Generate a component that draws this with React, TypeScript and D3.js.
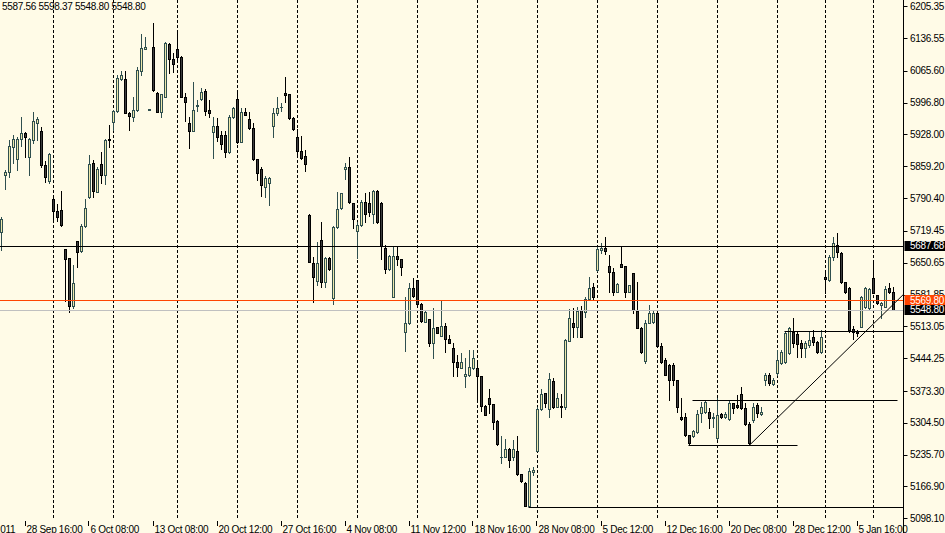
import React from 'react';
import * as d3 from 'd3';

const W = 945;
const H = 533;
const AXIS_X = 903.5;
const PLOT_BOTTOM = 520;

const opens = [5717,5840,5847,5901,5875,5918,5931,5879,5916,5953,
5935,5862,5827,5788,5763,5765,5680,5661,5557,5698,
5676,5730,5793,5866,5804,5864,5840,5918,5955,5979,
6048,6048,5974,5966,5981,6065,6113,5981,6117,6018,
5976,6009,6124,6091,6113,6096,6009,5953,5935,5990,
6005,6022,5981,5933,5946,5927,5927,5890,5966,6005,
5912,5976,5961,5942,5875,5853,5814,5823,5946,5974,
5987,6018,6016,5964,5922,5892,5881,5754,5650,5611,
5700,5609,5661,5574,5728,5769,5853,5858,5780,5719,
5732,5782,5780,5756,5806,5780,5683,5637,5577,5665,
5659,5501,5520,5596,5613,5561,5522,5529,5477,5512,
5492,5514,5486,5466,5436,5423,5406,5408,5423,5423,
5406,5341,5358,5345,5308,5230,5230,5248,5230,5243,
5194,5174,5124,5198,5243,5334,5369,5334,5395,5339,
5341,5339,5481,5520,5512,5548,5544,5572,5598,5635,
5678,5683,5644,5631,5587,5648,5644,5587,5628,5546,
5509,5438,5520,5522,5542,5471,5440,5429,5429,5397,
5317,5317,5278,5276,5285,5326,5328,5328,5315,5272,
5323,5317,5313,5347,5343,5367,5337,5302,5310,5343,
5323,5397,5408,5388,5412,5434,5436,5455,5501,5496,
5477,5466,5473,5490,5479,5458,5620,5613,5663,5689,
5672,5609,5596,5507,5501,5512,5555,5553,5618,5581,
5559,5555,5596,5587.56];

const highs = [5750,5851,5916,5927,5922,5966,5933,5920,5976,5966,
5944,5871,5888,5797,5778,5806,5680,5661,5646,5698,
5734,5788,5884,5873,5858,5890,5918,5948,5981,6057,
6065,6065,5976,6009,6074,6145,6139,5983,6169,6020,
6016,6128,6126,6104,6150,6098,6018,5966,6042,6003,
6029,6026,6003,5966,5964,5935,5935,5970,5987,6018,
5985,5985,5976,5953,5875,5858,5838,5836,5985,6009,
5996,6052,6016,5966,5940,5925,5894,5756,5663,5696,
5739,5663,5663,5730,5804,5801,5866,5879,5780,5739,
5786,5801,5804,5808,5808,5782,5689,5667,5687,5687,
5659,5577,5607,5618,5613,5564,5548,5529,5553,5512,
5568,5520,5494,5477,5451,5455,5445,5462,5462,5440,
5406,5343,5377,5345,5310,5276,5269,5250,5267,5276,
5194,5176,5207,5209,5339,5377,5369,5412,5401,5369,
5367,5485,5551,5553,5555,5557,5577,5620,5607,5685,
5693,5706,5667,5639,5607,5685,5644,5602,5628,5609,
5512,5527,5559,5548,5548,5477,5445,5432,5434,5397,
5358,5326,5278,5289,5332,5349,5352,5337,5326,5358,
5326,5328,5354,5347,5365,5382,5347,5306,5347,5347,
5339,5412,5412,5401,5462,5462,5501,5512,5531,5501,
5484,5481,5501,5505,5481,5505,5635,5667,5706,5715,
5674,5609,5598,5514,5505,5578,5598,5595,5654,5581,
5566,5600,5607,5598.37];

const lows = [5678,5810,5836,5866,5851,5903,5879,5840,5909,5916,
5858,5825,5823,5739,5741,5730,5568,5544,5553,5641,
5674,5728,5791,5793,5804,5823,5821,5901,5938,5976,
6046,5974,5938,5957,5979,6057,6113,5980,6022,5976,
5966,6009,6061,6063,6091,6009,5957,5899,5935,5979,
6003,5970,5966,5877,5914,5897,5879,5888,5964,5909,
5912,5970,5940,5873,5830,5795,5793,5775,5922,5970,
5979,5998,5961,5938,5881,5875,5849,5652,5566,5602,
5598,5598,5635,5561,5726,5767,5832,5780,5726,5661,
5730,5739,5752,5737,5737,5659,5628,5635,5577,5646,
5624,5460,5518,5577,5561,5522,5522,5471,5445,5499,
5492,5458,5477,5406,5406,5423,5382,5406,5421,5349,
5330,5321,5326,5291,5256,5218,5230,5209,5224,5192,
5176,5124,5122,5192,5243,5332,5339,5317,5337,5339,
5317,5334,5481,5490,5490,5490,5533,5570,5570,5633,
5672,5670,5587,5581,5587,5641,5577,5587,5542,5509,
5455,5434,5520,5520,5468,5434,5408,5354,5386,5328,
5310,5276,5259,5274,5282,5306,5326,5293,5295,5270,
5315,5315,5310,5326,5337,5334,5300,5256,5306,5317,
5321,5386,5386,5386,5408,5432,5434,5453,5468,5447,
5447,5447,5468,5473,5455,5455,5585,5611,5656,5663,
5607,5585,5501,5486,5492,5512,5553,5551,5585,5561,
5531,5555,5585,5548.80];

const closes = [5745,5847,5903,5918,5918,5931,5922,5918,5957,5961,
5862,5836,5886,5763,5750,5732,5659,5557,5607,5674,
5730,5769,5864,5806,5853,5840,5916,5916,5979,6050,
6057,5974,5968,5981,6067,6115,6117,5982,6024,5976,
6016,6126,6091,6080,6096,6009,5998,5935,5981,5991,
6020,5979,5974,5946,5922,5907,5890,5966,5985,5912,
5976,5970,5942,5875,5845,5819,5834,5834,5974,5985,
5988,6013,5964,5940,5892,5877,5864,5652,5620,5650,
5609,5661,5637,5728,5767,5801,5858,5782,5745,5732,
5782,5756,5760,5806,5739,5687,5637,5665,5665,5659,
5641,5520,5596,5579,5561,5525,5544,5477,5509,5499,
5514,5486,5477,5436,5425,5436,5410,5425,5445,5406,
5341,5321,5345,5306,5259,5231,5248,5224,5248,5194,
5179,5124,5200,5202,5334,5367,5347,5399,5339,5358,
5339,5484,5531,5512,5546,5490,5572,5596,5577,5680,
5683,5676,5631,5587,5605,5641,5587,5602,5548,5509,
5458,5520,5542,5542,5471,5436,5408,5397,5397,5339,
5313,5278,5261,5287,5323,5339,5349,5315,5316,5321,
5317,5323,5347,5337,5339,5337,5302,5261,5339,5326,
5328,5408,5390,5397,5440,5458,5499,5509,5477,5475,
5466,5477,5484,5479,5458,5490,5615,5663,5693,5674,
5609,5587,5505,5501,5499,5577,5596,5594,5585,5564,
5564,5594,5587,5548.80];

const priceTicks = [6205.35, 6136.55, 6065.60, 5996.80, 5928.00, 5859.20, 5790.40, 5719.45,
  5650.65, 5581.85, 5513.05, 5444.25, 5373.30, 5304.50, 5235.70, 5166.90, 5098.10];

const timeLabels = ["22 Sep 2011", "28 Sep 16:00", "6 Oct 08:00", "13 Oct 08:00", "20 Oct 12:00",
  "27 Oct 16:00", "4 Nov 08:00", "11 Nov 12:00", "18 Nov 16:00", "28 Nov 08:00", "5 Dec 12:00",
  "12 Dec 16:00", "20 Dec 08:00", "28 Dec 12:00", "5 Jan 16:00"];
const timeLabelBars = [-10, 6, 22, 38, 54, 70, 86, 102, 118, 134, 150, 166, 182, 198, 214];
const gridBars = [13, 28, 44, 59, 74, 89, 104, 119, 134, 149, 164, 179, 194, 206, 218];

const headerText = "5587.56 5598.37 5548.80 5548.80";

// full-width levels
const levelPrices = [5687.68, 5569.80, 5548.80];
const levelColors = ["#000000", "#FF4500", "#C0C0C0"];
const tagBg = ["#000000", "#FF4500", "#000000"];

// horizontal segments: [price, startBar, endBar]
const segPrices = [5122, 5353.8, 5256, 5503];
const segStart = [132, 173, 172, 196];
const segEnd = [226, 224, 199, 226];

// trend line anchors
const trendBars = [187, 223];
const trendPrices = [5256, 5561];

const BG = "#FFFBE7";
const BULL_FILL = "#EEE8AA";
const BULL_STROKE = "#2F4F4F";
const BEAR_FILL = "#3C3C3C";
const BEAR_STROKE = "#000000";
const FONT = "'Liberation Sans', Arial, sans-serif";

export default function App() {
  const x = d3.scaleLinear().domain([0, 223]).range([1.5, 893.5]);
  const y = d3.scaleLinear().domain([5094.2, 6218.8]).range([PLOT_BOTTOM, 0]);
  const cy = (p: number) => Math.round(y(p)) + 0.5;

  const candles = opens.map((o, i) => {
    const c = closes[i];
    const bull = c >= o;
    const xc = x(i);
    const top = cy(Math.max(o, c));
    const bot = cy(Math.min(o, c));
    const hy = Math.round(y(highs[i]));
    const ly = Math.round(y(lows[i])) + 1;
    const stroke = bull ? BULL_STROKE : BEAR_STROKE;
    return (
      <g key={i}>
        <line x1={xc} x2={xc} y1={hy} y2={ly} stroke={stroke} strokeWidth={1} />
        {bot - top >= 1 ? (
          <rect x={xc - 1} y={top} width={2} height={bot - top}
            fill={bull ? BULL_FILL : BEAR_FILL} stroke={stroke} strokeWidth={1} />
        ) : (
          <line x1={xc - 1.5} x2={xc + 1.5} y1={top} y2={top} stroke={stroke} strokeWidth={1} />
        )}
      </g>
    );
  });

  // trend line extended to axis
  const tx1 = x(trendBars[0]);
  const ty1 = y(trendPrices[0]);
  const tx2 = x(trendBars[1]);
  const ty2 = y(trendPrices[1]);
  const slope = (ty2 - ty1) / (tx2 - tx1);
  const tEndX = AXIS_X;
  const tEndY = ty1 + slope * (tEndX - tx1);

  return (
    <svg width={W} height={H} style={{ position: 'fixed', left: 0, top: 0, display: 'block' }}
      fontFamily={FONT}>
      <rect x={0} y={0} width={W} height={H} fill={BG} />
      {gridBars.map((b, i) => (
        <line key={'g' + i} x1={x(b)} x2={x(b)} y1={0} y2={PLOT_BOTTOM}
          stroke="#000" strokeWidth={1} strokeDasharray="3,2" />
      ))}
      {candles}
      {/* level lines */}
      {levelPrices.map((p, i) => (
        <line key={'l' + i} x1={0} x2={AXIS_X} y1={cy(p)} y2={cy(p)}
          stroke={levelColors[i]} strokeWidth={1} />
      ))}
      {segPrices.map((p, i) => (
        <line key={'s' + i} x1={Math.min(x(segStart[i]) - 1, AXIS_X)} x2={Math.min(x(segEnd[i]), AXIS_X)}
          y1={cy(p)} y2={cy(p)} stroke="#000" strokeWidth={1} />
      ))}
      <line x1={tx1} y1={ty1} x2={tEndX} y2={tEndY} stroke="#000" strokeWidth={1} />
      {/* header */}
      <text x={2} y={9.5} fontSize={10} letterSpacing={-0.3} fill="#000">{headerText}</text>
      {/* price axis */}
      <line x1={AXIS_X} x2={AXIS_X} y1={0} y2={H} stroke="#000" strokeWidth={1} />
      {priceTicks.map((p, i) => (
        <g key={'p' + i}>
          <line x1={AXIS_X} x2={AXIS_X + 4} y1={cy(p)} y2={cy(p)} stroke="#000" strokeWidth={1} />
          <text x={910} y={y(p) + 3.6} fontSize={10} letterSpacing={-0.3} fill="#000">{p.toFixed(2)}</text>
        </g>
      ))}
      {levelPrices.map((p, i) => (
        <g key={'t' + i}>
          <rect x={AXIS_X + 1} y={Math.round(y(p)) - 5} width={W - AXIS_X} height={10} fill={tagBg[i]} />
          <text x={910} y={y(p) + 3.6} fontSize={10} letterSpacing={-0.3} fill="#fff">{p.toFixed(2)}</text>
        </g>
      ))}
      {/* time axis */}
      {timeLabelBars.map((b, i) => (
        <g key={'x' + i}>
          <line x1={Math.round(x(b)) - 0.5} x2={Math.round(x(b)) - 0.5} y1={521} y2={526}
            stroke="#000" strokeWidth={1} />
          <text x={x(b) + 1} y={532.5} fontSize={10} letterSpacing={-0.3} fill="#000">{timeLabels[i]}</text>
        </g>
      ))}
    </svg>
  );
}
